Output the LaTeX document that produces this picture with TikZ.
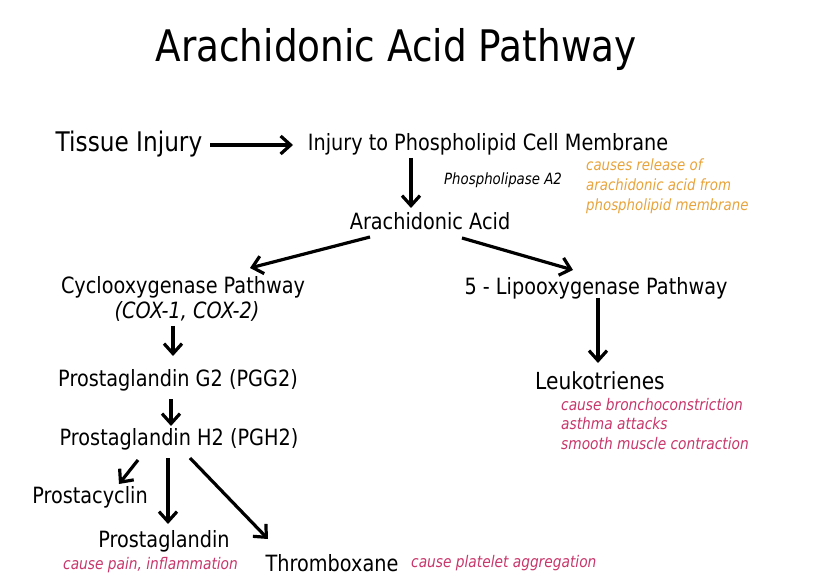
\documentclass[tikz,border=0pt]{standalone}
\usepackage{fontspec}
\setmainfont{DejaVu Sans}[FakeStretch=0.86]
\usetikzlibrary{arrows.meta,calc}
\definecolor{orangetxt}{HTML}{E8A33A}
\definecolor{redtxt}{HTML}{C8366A}
\tikzset{
  lbl/.style={inner sep=0pt, font=\fontsize{22.4}{26}\selectfont},
  note/.style={inner sep=0pt, anchor=west, font=\fontsize{16}{19.8}\selectfont\itshape, align=left},
  arr/.style={line width=3.2pt, -{Straight Barb[length=10pt,width=18pt,line width=3.2pt]}},
}
\begin{document}
\begin{tikzpicture}[x=1pt,y=-1pt]
\useasboundingbox (0,0) rectangle (814,585);
\node[inner sep=0pt, font=\fontsize{43.5}{48}\selectfont] (title) at (396,50) {Arachidonic Acid Pathway};
\node[lbl, font=\fontsize{27}{30}\selectfont] (ti) at (129,144) {Tissue Injury};
\node[lbl] (ipm) at (488,144) {Injury to Phospholipid Cell Membrane};
\node[note, text=black, font=\fontsize{15.5}{19}\selectfont\itshape] (pla) at (444,180) {Phospholipase A2};
\node[note, text=orangetxt, font=\fontsize{15.5}{20}\selectfont\itshape] (rel) at (586,186) {causes release of\\arachidonic acid from\\phospholipid membrane};
\node[lbl] (aa) at (430,221) {Arachidonic Acid};
\node[lbl] (cox) at (183,287) {Cyclooxygenase Pathway};
\node[lbl, font=\fontsize{22.4}{26}\selectfont\itshape] (coxn) at (187,311) {(COX-1, COX-2)};
\node[lbl] (lox) at (596,288) {5 - Lipooxygenase Pathway};
\node[lbl] (pgg) at (178,380) {Prostaglandin G2 (PGG2)};
\node[lbl, font=\fontsize{23.5}{27}\selectfont] (leu) at (600,381) {Leukotrienes};
\node[note, text=redtxt] (leun) at (561,424) {cause bronchoconstriction\\asthma attacks\\smooth muscle contraction};
\node[lbl] (pgh) at (179,439) {Prostaglandin H2 (PGH2)};
\node[lbl] (pc) at (90,497) {Prostacyclin};
\node[lbl] (pg) at (164,541) {Prostaglandin};
\node[note, text=redtxt] (pgn) at (63,565) {cause pain, inflammation};
\node[lbl] (tx) at (332,563) {Thromboxane};
\node[note, text=redtxt] (txn) at (411,563) {cause platelet aggregation};
\draw[arr] ($(ti)+(81,1)$) -- ($(ipm)+(-195,1)$);
\draw[arr] ($(ipm)+(-77,14)$) -- ($(aa)+(-19,-13)$);
\draw[arr] ($(aa)+(-60,16)$) -- ($(cox)+(67,-19)$);
\draw[arr] ($(aa)+(32,17)$) -- ($(lox)+(-23,-18)$);
\draw[arr] ($(coxn)+(-14,15)$) -- ($(pgg)+(-5,-24)$);
\draw[arr] ($(lox)+(2,10)$) -- ($(leu)+(-2,-18)$);
\draw[arr] ($(pgg)+(-7,19)$) -- ($(pgh)+(-8,-13)$);
\draw[arr] ($(pgh)+(-41,21)$) -- ($(pc)+(29,-13)$);
\draw[arr] ($(pgh)+(-11,19)$) -- ($(pg)+(4,-17)$);
\draw[arr] ($(pgh)+(11,19)$) -- ($(tx)+(-64,-24)$);
\end{tikzpicture}
\end{document}
